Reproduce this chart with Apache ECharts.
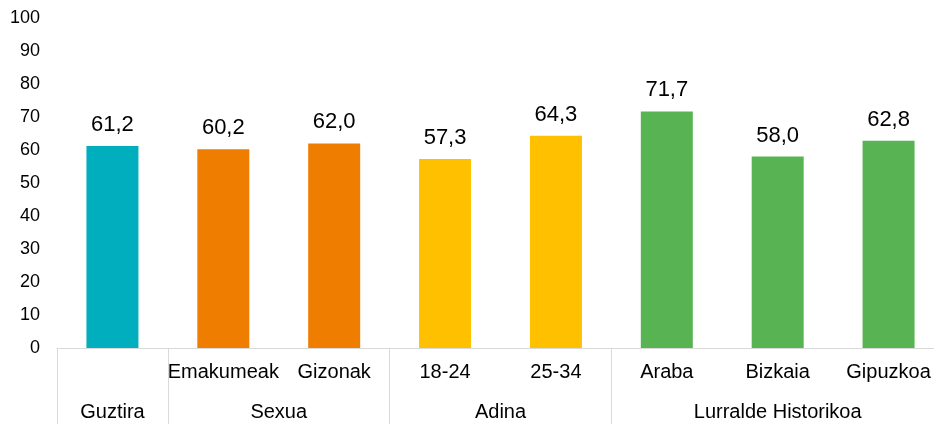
<!DOCTYPE html>
<html>
<head>
<meta charset="utf-8">
<script src="https://cdn.jsdelivr.net/npm/echarts@6/dist/echarts.min.js"></script>
<style>
html,body{margin:0;padding:0;background:#fff;}
#c{width:934px;height:424px;}
</style>
</head>
<body>
<div id="c"></div>
<script>
const categories = ["Guztira", "Emakumeak", "Gizonak", "18-24", "25-34", "Araba", "Bizkaia", "Gipuzkoa"];
const values = [61.2, 60.2, 62.0, 57.3, 64.3, 71.7, 58.0, 62.8];
const categoryLabels = ["", "Emakumeak", "Gizonak", "18-24", "25-34", "Araba", "Bizkaia", "Gipuzkoa"];
// group labels sit on half-category points: index = 2 * category position
const groupPoints = ["", "Guztira", "", "", "Sexua", "", "", "", "Adina", "", "", "", "", "Lurralde Historikoa", "", "", ""];
const groupSeparators = [0, 2, 6, 10];
const colors = ["#00AEBD", "#EF7D00", "#EF7D00", "#FFC000", "#FFC000", "#58B452", "#58B452", "#58B452"];
const yTicks = { min: 0, max: 100, interval: 10 };

const font = "Liberation Sans, Arial, sans-serif";
const chart = echarts.init(document.getElementById('c'), null, { renderer: 'canvas' });
chart.setOption({
  animation: false,
  backgroundColor: '#fff',
  grid: { left: 57, right: -10, top: 18, bottom: 76, containLabel: false, outerBoundsMode: 'none' },
  xAxis: [
    {
      type: 'category',
      data: categoryLabels,
      position: 'bottom',
      axisLine: { show: false },
      axisTick: { show: false },
      axisLabel: { interval: 0, margin: 14, fontSize: 20, color: '#000', fontFamily: font }
    },
    {
      type: 'category',
      data: groupPoints,
      boundaryGap: false,
      position: 'bottom',
      axisLine: { show: true, lineStyle: { color: '#d9d9d9', width: 1 } },
      axisTick: {
        show: true,
        length: 80,
        interval: function (i) { return groupSeparators.indexOf(i) >= 0; },
        lineStyle: { color: '#d9d9d9', width: 1 }
      },
      axisLabel: { interval: 0, margin: 54, fontSize: 20, color: '#000', fontFamily: font }
    }
  ],
  yAxis: {
    type: 'value',
    min: yTicks.min, max: yTicks.max, interval: yTicks.interval,
    axisLine: { show: false },
    axisTick: { show: false },
    splitLine: { show: false },
    axisLabel: { margin: 17, fontSize: 18, color: '#000', fontFamily: font }
  },
  series: [{
    type: 'bar',
    xAxisIndex: 0,
    barWidth: 52,
    data: values.map((v, i) => ({ value: v, itemStyle: { color: colors[i] } })),
    label: {
      show: true,
      position: 'top',
      distance: 10,
      fontSize: 22,
      color: '#000',
      fontFamily: font,
      formatter: p => p.value.toFixed(1).replace('.', ',')
    }
  }]
});
</script>
</body>
</html>
